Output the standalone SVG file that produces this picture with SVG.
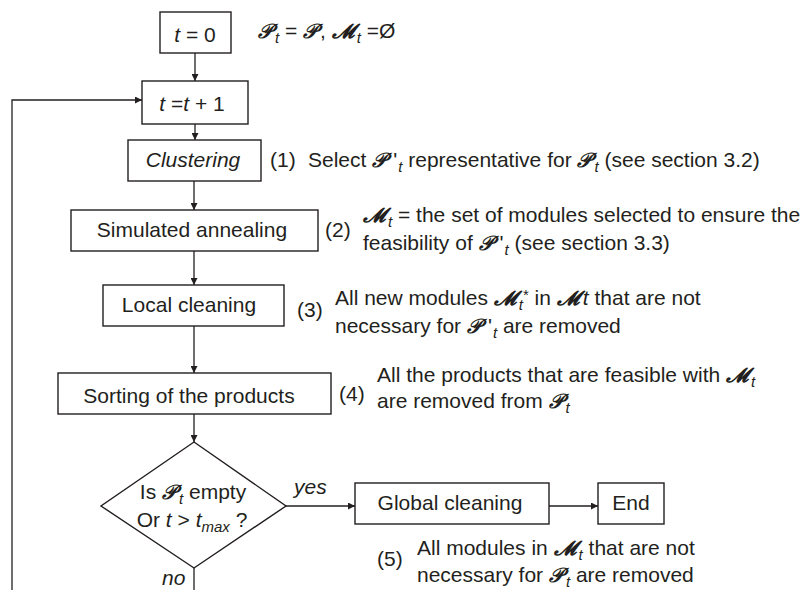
<svg xmlns="http://www.w3.org/2000/svg" width="806" height="590" viewBox="0 0 806 590">
  <style>
    text { font-family: "Liberation Sans", Arial, sans-serif; font-size: 21px; fill: #231f20; }
    .box { fill: #ffffff; stroke: #231f20; stroke-width: 1.4; }
    .line { fill: none; stroke: #231f20; stroke-width: 1.3; }
    .mid { text-anchor: middle; }
    .it { font-style: italic; }
    .scr { font-family: "DejaVu Serif", "DejaVu Sans", serif; font-size: 20px; font-style: italic; font-weight: bold; }
    .sub { font-size: 15px; font-style: italic; }
    .prime { font-family: "Liberation Sans", Arial, sans-serif; font-size: 21px; font-style: normal; }
  </style>
  <defs>
    <marker id="arrow" viewBox="0 0 10 10" refX="10" refY="5" markerWidth="7" markerHeight="7" markerUnits="userSpaceOnUse" orient="auto">
      <path d="M0,0 L10,5 L0,10 z" fill="#231f20"/>
    </marker>
  </defs>

  <rect width="806" height="590" fill="#ffffff"/>

  <!-- connectors -->
  <g id="connectors">
    <line class="line" x1="195" y1="53" x2="195" y2="81" marker-end="url(#arrow)"/>
    <line class="line" x1="195" y1="124" x2="195" y2="140" marker-end="url(#arrow)"/>
    <line class="line" x1="194" y1="181" x2="194" y2="210" marker-end="url(#arrow)"/>
    <line class="line" x1="194" y1="251" x2="194" y2="285" marker-end="url(#arrow)"/>
    <line class="line" x1="194" y1="326" x2="194" y2="373" marker-end="url(#arrow)"/>
    <line class="line" x1="194" y1="414" x2="194" y2="442" marker-end="url(#arrow)"/>
    <line class="line" x1="286" y1="506" x2="355" y2="506" marker-end="url(#arrow)"/>
    <line class="line" x1="549" y1="506" x2="598" y2="506" marker-end="url(#arrow)"/>
    <!-- "no" branch loops back to the increment step -->
    <path class="line" d="M194,568 V600 H12 V100 H142" marker-end="url(#arrow)"/>
  </g>

  <g id="init">
    <rect class="box" x="160" y="12" width="71" height="41"/>
    <text class="mid" x="195" y="42"><tspan class="it">t</tspan> = 0</text>
  </g>
  <g id="init-note">
    <text x="258" y="38"><tspan class="scr">𝒫</tspan><tspan class="sub" dx="3" dy="5">t</tspan><tspan dy="-5"> = </tspan><tspan class="scr">𝒫</tspan><tspan dx="3">, </tspan><tspan class="scr">𝓜</tspan><tspan class="sub" dx="3" dy="5">t</tspan><tspan dy="-5"> =Ø</tspan></text>
  </g>

  <g id="increment">
    <rect class="box" x="142" y="81" width="106" height="43"/>
    <text class="mid" x="192" y="111"><tspan class="it">t</tspan> =<tspan class="it">t</tspan> + 1</text>
  </g>

  <g id="clustering">
    <rect class="box" x="128" y="140" width="133" height="41"/>
    <text class="mid it" x="193" y="167">Clustering</text>
    <text x="270" y="167">(1)</text>
    <text x="308" y="167">Select <tspan class="scr">𝒫</tspan><tspan class="prime" dx="7">'</tspan><tspan class="sub" dx="1" dy="5">t</tspan><tspan dy="-5"> representative for </tspan><tspan class="scr">𝒫</tspan><tspan class="sub" dx="3" dy="5">t</tspan><tspan dy="-5"> (see section 3.2)</tspan></text>
  </g>

  <g id="annealing">
    <rect class="box" x="71" y="210" width="247" height="41"/>
    <text class="mid" x="192" y="237">Simulated annealing</text>
    <text x="325" y="237">(2)</text>
    <text x="363" y="222"><tspan class="scr">𝓜</tspan><tspan class="sub" dx="3" dy="5">t</tspan><tspan dy="-5"> = the set of modules selected to ensure the</tspan></text>
    <text x="363" y="250">feasibility of <tspan class="scr">𝒫</tspan><tspan class="prime" dx="7">'</tspan><tspan class="sub" dx="1" dy="5">t</tspan><tspan dy="-5"> (see section 3.3)</tspan></text>
  </g>

  <g id="local-cleaning">
    <rect class="box" x="103" y="285" width="181" height="41"/>
    <text class="mid" x="189" y="312">Local cleaning</text>
    <text x="297" y="317">(3)</text>
    <text x="335" y="305">All new modules <tspan class="scr">𝓜</tspan><tspan class="sub" dx="3" dy="5">t</tspan><tspan dy="-10" font-size="15">*</tspan><tspan dy="5"> in </tspan><tspan class="scr">𝓜</tspan><tspan class="it" dx="4">t</tspan> that are not</text>
    <text x="335" y="333">necessary for <tspan class="scr">𝒫</tspan><tspan class="prime" dx="7">'</tspan><tspan class="sub" dx="1" dy="5">t</tspan><tspan dy="-5"> are removed</tspan></text>
  </g>

  <g id="sorting">
    <rect class="box" x="58" y="373" width="273" height="41"/>
    <text class="mid" x="189" y="403">Sorting of the products</text>
    <text x="339" y="401">(4)</text>
    <text x="377" y="382">All the products that are feasible with <tspan class="scr">𝓜</tspan><tspan class="sub" dx="3" dy="5">t</tspan></text>
    <text x="377" y="408">are removed from <tspan class="scr">𝒫</tspan><tspan class="sub" dx="3" dy="5">t</tspan></text>
  </g>

  <g id="decision">
    <polygon class="box" points="194,442 286,506 194,568 101,506"/>
    <text class="mid" x="193" y="499">Is <tspan class="scr">𝒫</tspan><tspan class="sub" dx="3" dy="5">t</tspan><tspan dy="-5"> empty</tspan></text>
    <text class="mid" x="192" y="527">Or <tspan class="it">t</tspan> &gt; <tspan class="it">t</tspan><tspan class="sub" dy="5">max</tspan><tspan dy="-5"> ?</tspan></text>
    <text class="it" x="294" y="494">yes</text>
    <text class="it" x="162" y="585">no</text>
  </g>

  <g id="global-cleaning">
    <rect class="box" x="355" y="483" width="194" height="41"/>
    <text class="mid" x="450" y="510">Global cleaning</text>
    <text x="377" y="566">(5)</text>
    <text x="417" y="555">All modules in <tspan class="scr">𝓜</tspan><tspan class="sub" dx="3" dy="5">t</tspan><tspan dy="-5"> that are not</tspan></text>
    <text x="417" y="582">necessary for <tspan class="scr">𝒫</tspan><tspan class="sub" dx="3" dy="5">t</tspan><tspan dy="-5"> are removed</tspan></text>
  </g>

  <g id="end">
    <rect class="box" x="598" y="483" width="66" height="41"/>
    <text class="mid" x="631" y="510">End</text>
  </g>
</svg>
